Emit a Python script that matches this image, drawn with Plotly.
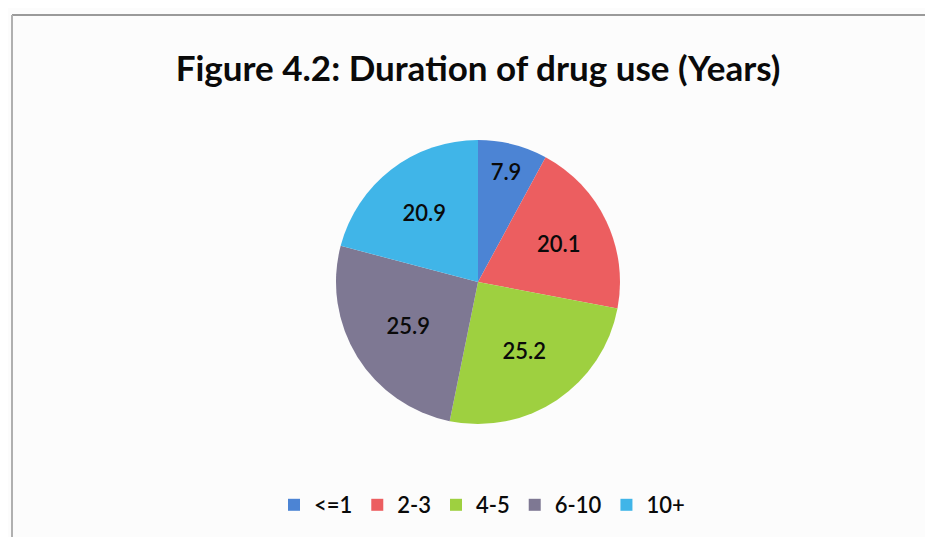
import plotly.graph_objects as go

categories = ["<=1", "2-3", "4-5", "6-10", "10+"]
values = [7.9, 20.1, 25.2, 25.9, 20.9]
colors = ["#4C84D4", "#EC5E60", "#9ED040", "#7E7893", "#40B5E8"]

W, H = 933, 537
OFF = 8  # page body margin offset
cx, cy, r = 478 - OFF, 282 - OFF, 142

fig = go.Figure(go.Pie(
    labels=categories,
    values=values,
    sort=False,
    direction="clockwise",
    rotation=0,
    marker=dict(colors=colors, line=dict(width=0)),
    texttemplate="%{value}",
    textposition="inside",
    insidetextorientation="horizontal",
    textfont=dict(family="Lato, Open Sans, sans-serif", size=22, color="#0a0a0a", weight=600),
    hoverinfo="label+value",
    domain=dict(x=[(cx - r) / W, (cx + r) / W], y=[(H - cy - r) / H, (H - cy + r) / H]),
))

fig.update_layout(
    width=W, height=H,
    margin=dict(l=0, r=0, t=0, b=0),
    paper_bgcolor="#fcfcfc",
    plot_bgcolor="#fcfcfc",
    title=dict(
        text="<b>Figure 4.2: Duration of drug use (Years)</b>",
        x=(478 - OFF) / W, xanchor="center",
        y=1 - (69 - OFF) / H, yanchor="middle",
        font=dict(family="Lato, Open Sans, sans-serif", size=35, color="#0a0a0a"),
    ),
    showlegend=True,
    legend=dict(
        orientation="h",
        x=(482 - OFF) / W, xanchor="center",
        y=(537 - 505 + OFF) / H, yanchor="middle",
        font=dict(family="Lato, Open Sans, sans-serif", size=22, color="#0a0a0a", weight=600),
        bgcolor="rgba(0,0,0,0)",
        itemwidth=30,
    ),
    shapes=[
        dict(type="line", xref="paper", yref="paper", x0=(12 - OFF) / W, x1=1,
             y0=1 - (15 - OFF) / H, y1=1 - (15 - OFF) / H,
             line=dict(color="#9a9a9a", width=2)),
        dict(type="line", xref="paper", yref="paper", x0=(12 - OFF) / W, x1=(12 - OFF) / W,
             y0=0, y1=1 - (15 - OFF) / H,
             line=dict(color="#b0b0b0", width=2)),
    ],
)

fig.write_html("out.html")
